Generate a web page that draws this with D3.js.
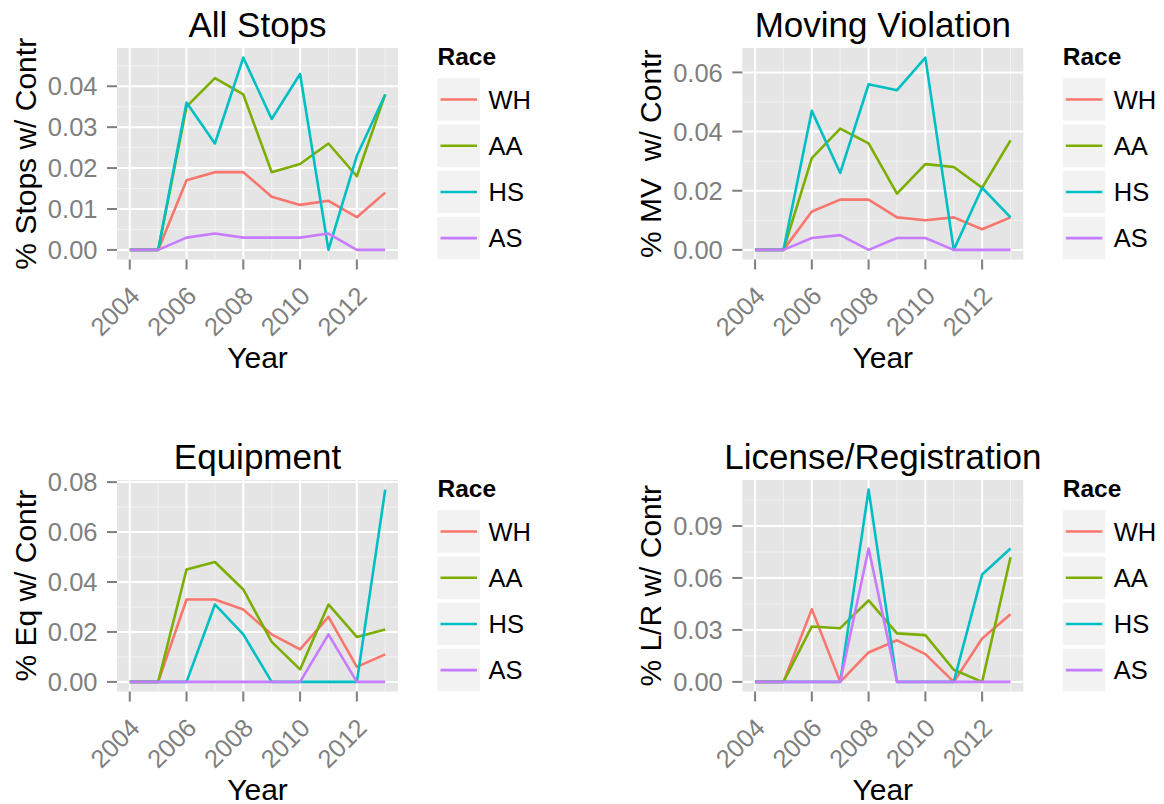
<!DOCTYPE html>
<html><head><meta charset="utf-8">
<script src="https://cdn.jsdelivr.net/npm/d3@7"></script>
<style>
body{margin:0;background:#fff;}
svg{display:block;font-family:"Liberation Sans",Arial,Helvetica,sans-serif;}
text{white-space:pre;}
</style></head>
<body><svg id="chart" width="1164" height="804"></svg>
<script>
// ---------- data ----------
const years = [2004,2005,2006,2007,2008,2009,2010,2011,2012,2013];
const races = ["WH","AA","HS","AS"];
const raceColors = ["#F8766D","#7CAE00","#00BFC4","#C77CFF"];
const xTickYears = [2004,2006,2008,2010,2012];

const panelTitles = ["All Stops","Moving Violation","Equipment","License/Registration"];
const yAxisTitles = ["% Stops w/ Contr","% MV  w/ Contr","% Eq w/ Contr","% L/R w/ Contr"];
const xAxisTitle = "Year";
const legendTitle = "Race";

const yTicksAllStops = [0,0.01,0.02,0.03,0.04];
const yTicksMoving = [0,0.02,0.04,0.06];
const yTicksEquipment = [0,0.02,0.04,0.06,0.08];
const yTicksLicense = [0,0.03,0.06,0.09];

// All Stops
const allStopsWH = [0,0,0.017,0.019,0.019,0.013,0.011,0.012,0.008,0.014];
const allStopsAA = [0,0,0.035,0.042,0.038,0.019,0.021,0.026,0.018,0.038];
const allStopsHS = [0,0,0.036,0.026,0.047,0.032,0.043,0,0.023,0.038];
const allStopsAS = [0,0,0.003,0.004,0.003,0.003,0.003,0.004,0,0];
// Moving Violation
const movingWH = [0,0,0.013,0.017,0.017,0.011,0.010,0.011,0.007,0.011];
const movingAA = [0,0,0.031,0.041,0.036,0.019,0.029,0.028,0.021,0.037];
const movingHS = [0,0,0.047,0.026,0.056,0.054,0.065,0,0.021,0.011];
const movingAS = [0,0,0.004,0.005,0,0.004,0.004,0,0,0];
// Equipment
const equipWH = [0,0,0.033,0.033,0.029,0.019,0.013,0.026,0.006,0.011];
const equipAA = [0,0,0.045,0.048,0.037,0.016,0.005,0.031,0.018,0.021];
const equipHS = [0,0,0,0.031,0.019,0,0,0,0,0.077];
const equipAS = [0,0,0,0,0,0,0,0.019,0,0];
// License/Registration
const licenseWH = [0,0,0.042,0,0.017,0.024,0.016,0,0.025,0.039];
const licenseAA = [0,0,0.032,0.031,0.047,0.028,0.027,0.007,0,0.072];
const licenseHS = [0,0,0,0,0.111,0,0,0,0.062,0.077];
const licenseAS = [0,0,0,0,0.077,0,0,0,0,0];

const panelSeries = [
  [allStopsWH, allStopsAA, allStopsHS, allStopsAS],
  [movingWH, movingAA, movingHS, movingAS],
  [equipWH, equipAA, equipHS, equipAS],
  [licenseWH, licenseAA, licenseHS, licenseAS]
];
const panelTicks = [yTicksAllStops, yTicksMoving, yTicksEquipment, yTicksLicense];

// ---------- layout ----------
const plotLefts = [117, 742.3, 117, 742.3];
const plotTops = [48, 48, 480, 480];
const plotW = 281, plotH = 211.5;
const svg = d3.select("#chart");
const grey50 = "#7F7F7F";

panelSeries.forEach((series, p) => {
  const L = plotLefts[p], T = plotTops[p];
  const allVals = series.flat();
  const vmin = d3.min(allVals), vmax = d3.max(allVals);
  const pad = (vmax - vmin) * 0.05;
  const y = d3.scaleLinear().domain([vmin - pad, vmax + pad]).range([T + plotH, T]);
  const x = d3.scaleLinear().domain([2004 - 0.45, 2013 + 0.45]).range([L, L + plotW]);
  const g = svg.append("g");

  // background
  g.append("rect").attr("x", L).attr("y", T).attr("width", plotW).attr("height", plotH).attr("fill", "#E5E5E5");

  // minor grid
  const ticks = panelTicks[p];
  const step = ticks[1] - ticks[0];
  const yMinor = [ticks[0] - step/2, ...ticks.map(t => t + step/2)].filter(v => v > y.domain()[0] && v < y.domain()[1]);
  const xMinor = [2003, ...xTickYears.map(t => t + 1)].filter(v => v > x.domain()[0] && v < x.domain()[1]);
  g.selectAll(".ymin").data(yMinor).join("line")
    .attr("x1", L).attr("x2", L + plotW).attr("y1", d => y(d)).attr("y2", d => y(d))
    .attr("stroke", "#F2F2F2").attr("stroke-width", 1);
  g.selectAll(".xmin").data(xMinor).join("line")
    .attr("y1", T).attr("y2", T + plotH).attr("x1", d => x(d)).attr("x2", d => x(d))
    .attr("stroke", "#F2F2F2").attr("stroke-width", 1);
  // major grid
  g.selectAll(".ymaj").data(ticks).join("line")
    .attr("x1", L).attr("x2", L + plotW).attr("y1", d => y(d)).attr("y2", d => y(d))
    .attr("stroke", "#FFFFFF").attr("stroke-width", 2);
  g.selectAll(".xmaj").data(xTickYears).join("line")
    .attr("y1", T).attr("y2", T + plotH).attr("x1", d => x(d)).attr("x2", d => x(d))
    .attr("stroke", "#FFFFFF").attr("stroke-width", 2);

  // lines
  const line = d3.line().x((d, i) => x(years[i])).y(d => y(d));
  series.forEach((vals, s) => {
    g.append("path").datum(vals).attr("d", line).attr("fill", "none")
      .attr("stroke", raceColors[s]).attr("stroke-width", 2.6).attr("stroke-linejoin", "round");
  });

  // y axis
  g.selectAll(".ytick").data(ticks).join("line")
    .attr("x1", L - 10).attr("x2", L).attr("y1", d => y(d)).attr("y2", d => y(d))
    .attr("stroke", grey50).attr("stroke-width", 2);
  g.selectAll(".ylab").data(ticks).join("text")
    .attr("x", L - 19.5).attr("y", d => y(d)).attr("dy", "0.36em")
    .attr("text-anchor", "end").attr("font-size", 25.5).attr("fill", grey50)
    .text(d => d3.format(".2f")(d));

  // x axis
  const B = T + plotH;
  g.selectAll(".xtick").data(xTickYears).join("line")
    .attr("x1", d => x(d)).attr("x2", d => x(d)).attr("y1", B).attr("y2", B + 10)
    .attr("stroke", grey50).attr("stroke-width", 2);
  g.selectAll(".xlab").data(xTickYears).join("text")
    .attr("transform", d => `translate(${x(d) + 11.5},${B + 38}) rotate(-45)`)
    .attr("text-anchor", "end").attr("font-size", 25.5).attr("fill", grey50)
    .text(d => d);

  // titles
  g.append("text").attr("x", L + plotW/2).attr("y", T - 11).attr("text-anchor", "middle")
    .attr("font-size", 35).attr("fill", "#000").text(panelTitles[p]);
  g.append("text").attr("x", L + plotW/2).attr("y", B + 108).attr("text-anchor", "middle")
    .attr("font-size", 30).attr("fill", "#000").text(xAxisTitle);
  g.append("text").attr("transform", `translate(${L - 81},${T + plotH/2}) rotate(-90)`)
    .attr("text-anchor", "middle").attr("font-size", 30).attr("fill", "#000").text(yAxisTitles[p]);

  // legend
  const LX = L + plotW + 39.5;
  g.append("text").attr("x", LX).attr("y", T + 17).attr("font-size", 24.5).attr("font-weight", "bold")
    .attr("fill", "#000").text(legendTitle);
  races.forEach((r, s) => {
    const ky = T + 30.3 + s * 46.2;
    g.append("rect").attr("x", LX).attr("y", ky).attr("width", 42.5).attr("height", 42.5).attr("fill", "#F2F2F2");
    g.append("line").attr("x1", LX + 3).attr("x2", LX + 39.5).attr("y1", ky + 21.25).attr("y2", ky + 21.25)
      .attr("stroke", raceColors[s]).attr("stroke-width", 2.6);
    g.append("text").attr("x", LX + 51).attr("y", ky + 21.25).attr("dy", "0.36em")
      .attr("font-size", 25.5).attr("fill", "#000").text(r);
  });
});
</script></body></html>
